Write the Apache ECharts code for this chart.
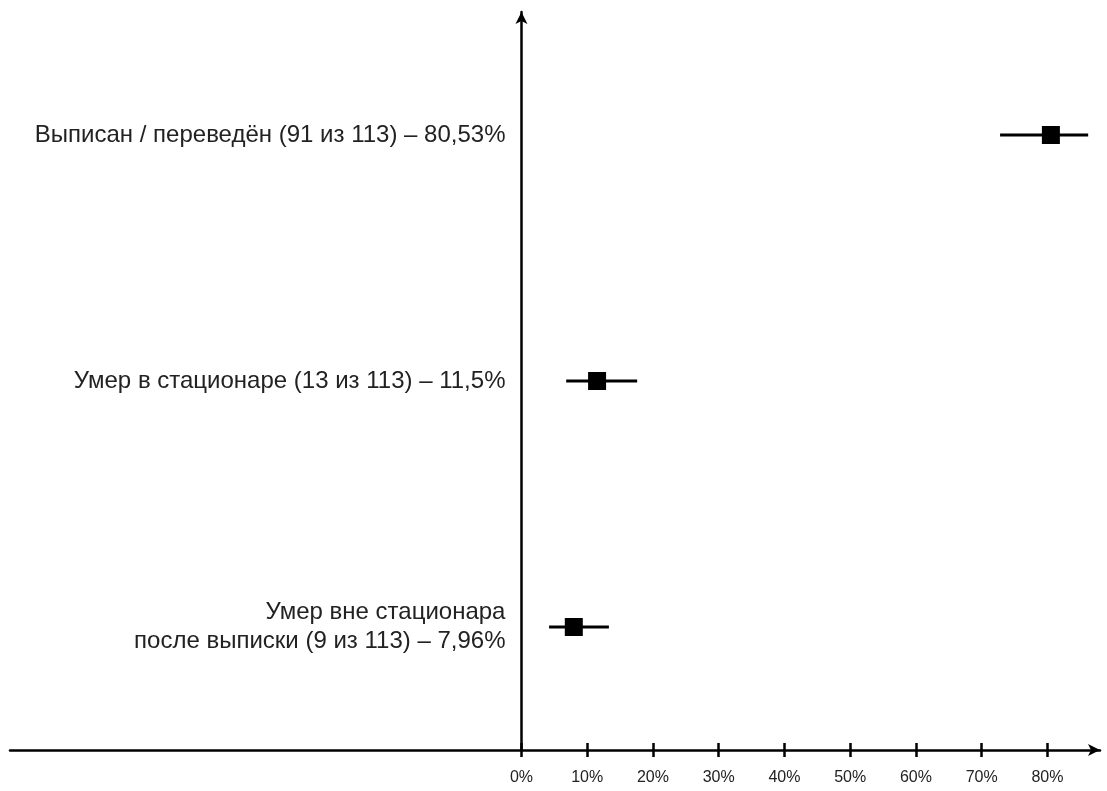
<!DOCTYPE html>
<html>
<head>
<meta charset="utf-8">
<script src="https://cdn.jsdelivr.net/npm/echarts@6/dist/echarts.min.js"></script>
<style>
  html, body { margin: 0; padding: 0; background: #fff; }
  #chart { width: 1107px; height: 791px; }
</style>
</head>
<body>
<div id="chart"></div>
<script>
  // исходы
  let categories = [
    'Выписан / переведён (91 из 113) – 80,53%',
    'Умер в стационаре (13 из 113) – 11,5%',
    'Умер вне стационара\nпосле выписки (9 из 113) – 7,96%'
  ]
  let values = [80.53, 11.5, 7.96]
  let lows = [72.8, 6.8, 4.2]
  let highs = [86.2, 17.6, 13.3]
  let tickValues = [0, 10, 20, 30, 40, 50, 60, 70, 80]

  let data = values.map(function (v, i) {
    return [v, i, lows[i], highs[i]]
  })

  let xMin = -77.8
  let xMax = 88
  let gridLeft = 10
  let gridRight = 7
  // ось Y ставим в точку 0 по X
  let gridWidth = 1107 - gridLeft - gridRight
  let yOffset = -(0 - xMin) / (xMax - xMin) * gridWidth

  let myChart = echarts.init(document.getElementById('chart'))
  let font = '"Liberation Sans", Arial, sans-serif'
  let option = {
    animation: false,
    grid: { left: gridLeft, right: gridRight, top: 12, bottom: 41, outerBoundsMode: 'none', containLabel: false },
    xAxis: [
      {
        type: 'value',
        min: xMin,
        max: xMax,
        position: 'bottom',
        splitLine: { show: false },
        axisLine: {
          show: true,
          lineStyle: { color: '#000', width: 2.5 },
          symbol: ['none', 'arrow'],
          symbolSize: [9, 12]
        },
        axisTick: {
          show: true,
          customValues: tickValues,
          length: 7,
          lineStyle: { color: '#000', width: 2.5 }
        },
        axisLabel: {
          customValues: tickValues,
          margin: 20,
          color: '#222',
          fontSize: 16,
          fontFamily: font,
          formatter: function (v) { return v + '%' }
        }
      },
      {
        // верхняя половина засечек
        type: 'value',
        min: xMin,
        max: xMax,
        position: 'bottom',
        splitLine: { show: false },
        axisLine: { show: false },
        axisTick: {
          show: true,
          inside: true,
          customValues: tickValues,
          length: 7,
          lineStyle: { color: '#000', width: 2.5 }
        },
        axisLabel: { show: false }
      }
    ],
    yAxis: {
      type: 'category',
      data: categories,
      inverse: true,
      position: 'left',
      offset: yOffset,
      axisLine: {
        onZero: false,
        lineStyle: { color: '#000', width: 2.5 },
        symbol: ['none', 'arrow'],
        symbolSize: [9, 12]
      },
      axisTick: { show: false },
      axisLabel: {
        margin: 16,
        color: '#222',
        fontSize: 24,
        lineHeight: 29,
        fontFamily: font,
        align: 'right'
      }
    },
    series: [
      {
        type: 'custom',
        xAxisIndex: 0,
        encode: { x: [0, 2, 3], y: 1 },
        renderItem: function (params, api) {
          let y = api.value(1)
          let lo = api.coord([api.value(2), y])
          let hi = api.coord([api.value(3), y])
          let c = api.coord([api.value(0), y])
          return {
            type: 'group',
            children: [
              {
                type: 'line',
                shape: { x1: lo[0], y1: lo[1], x2: hi[0], y2: hi[1] },
                style: { stroke: '#000', lineWidth: 3 }
              },
              {
                type: 'rect',
                shape: { x: c[0] - 9, y: c[1] - 9, width: 18, height: 18 },
                style: { fill: '#000' }
              }
            ]
          }
        },
        data: data
      }
    ]
  }
  myChart.setOption(option)
</script>
</body>
</html>
